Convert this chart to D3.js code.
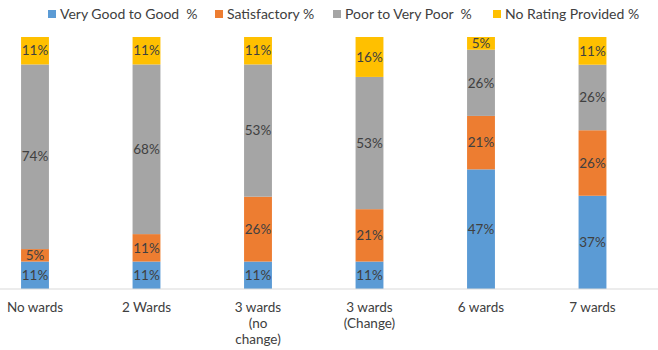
<!DOCTYPE html>
<html lang="en">
  <head>
    <meta charset="utf-8" />
    <title>Ward ratings</title>
    <script src="https://d3js.org/d3.v7.min.js"></script>
    <style>
      body { margin: 0; background: white; }
      text { font-family: Lato, "Open Sans", sans-serif; fill: #404040; }
    </style>
  </head>
  <body>
    <div id="chart"></div>
    <script>
      // values (Excel 100% stacked, so rows get normalised)
      var categories = ["No wards", "2 Wards", "3 wards (no change)", "3 wards (Change)", "6 wards", "7 wards"];
      var tickLines = [["No wards"], ["2 Wards"], ["3 wards", "(no", "change)"], ["3 wards", "(Change)"], ["6 wards"], ["7 wards"]];
      var seriesNames = ["Very Good to Good  %", "Satisfactory %", "Poor to Very Poor  %", "No Rating Provided %"];
      var veryGood = [11, 11, 11, 11, 47, 37];
      var satisfactory = [5, 11, 26, 21, 21, 26];
      var poor = [74, 68, 53, 53, 26, 26];
      var noRating = [11, 11, 11, 16, 5, 11];
      var colors = ["#5b9bd5", "#ed7d31", "#a5a5a5", "#ffc000"];

      var width = 658, height = 350;
      var keys = ["veryGood", "satisfactory", "poor", "noRating"];
      var rows = categories.map(function (c, i) {
        return { cat: c, veryGood: veryGood[i], satisfactory: satisfactory[i], poor: poor[i], noRating: noRating[i] };
      });

      var svg = d3.select("#chart").append("svg")
        .attr("width", width)
        .attr("height", height);

      var x = d3.scaleBand()
        .domain(categories)
        .range([-20.75, 648.25])
        .paddingInner(0.75)
        .paddingOuter(0.375);

      var y = d3.scaleLinear().domain([0, 1]).range([289, 37]);

      var stacked = d3.stack().keys(keys).offset(d3.stackOffsetExpand)(rows);

      var layer = svg.selectAll("g.layer")
        .data(stacked)
        .enter().append("g")
        .attr("class", "layer")
        .attr("fill", function (d, i) { return colors[i]; });

      layer.selectAll("rect")
        .data(function (d) { return d; })
        .enter().append("rect")
        .attr("x", function (d) { return x(d.data.cat); })
        .attr("y", function (d) { return y(d[1]); })
        .attr("width", x.bandwidth())
        .attr("height", function (d) { return y(d[0]) - y(d[1]); });

      // value labels, centred in each segment
      stacked.forEach(function (s) {
        svg.append("g").selectAll("text")
          .data(s)
          .enter().append("text")
          .attr("x", function (d) { return x(d.data.cat) + x.bandwidth() / 2; })
          .attr("y", function (d) { return (y(d[0]) + y(d[1])) / 2; })
          .attr("dy", "0.35em")
          .attr("text-anchor", "middle")
          .style("font-size", "13.5px")
          .text(function (d) { return d.data[s.key] + "%"; });
      });

      // category axis
      var axis = svg.append("g").attr("transform", "translate(0,289)");
      axis.append("line")
        .attr("x1", 0).attr("x2", 658)
        .attr("stroke", "#d9d9d9");
      categories.forEach(function (c, i) {
        var t = axis.append("text")
          .attr("x", x(c) + x.bandwidth() / 2)
          .attr("y", 18)
          .attr("text-anchor", "middle")
          .style("font-size", "13.5px");
        tickLines[i].forEach(function (line, j) {
          t.append("tspan")
            .attr("x", x(c) + x.bandwidth() / 2)
            .attr("dy", j === 0 ? "0.35em" : "16px")
            .text(line);
        });
      });

      // legend
      var legendX = [48, 215, 333, 493];
      var legend = svg.append("g");
      seriesNames.forEach(function (name, i) {
        legend.append("rect")
          .attr("x", legendX[i]).attr("y", 10)
          .attr("width", 8).attr("height", 8)
          .attr("fill", colors[i]);
        legend.append("text")
          .attr("x", legendX[i] + 12)
          .attr("y", 14)
          .attr("dy", "0.35em")
          .style("font-size", "14px")
          .style("white-space", "pre")
          .attr("xml:space", "preserve")
          .text(name);
      });
    </script>
  </body>
</html>
